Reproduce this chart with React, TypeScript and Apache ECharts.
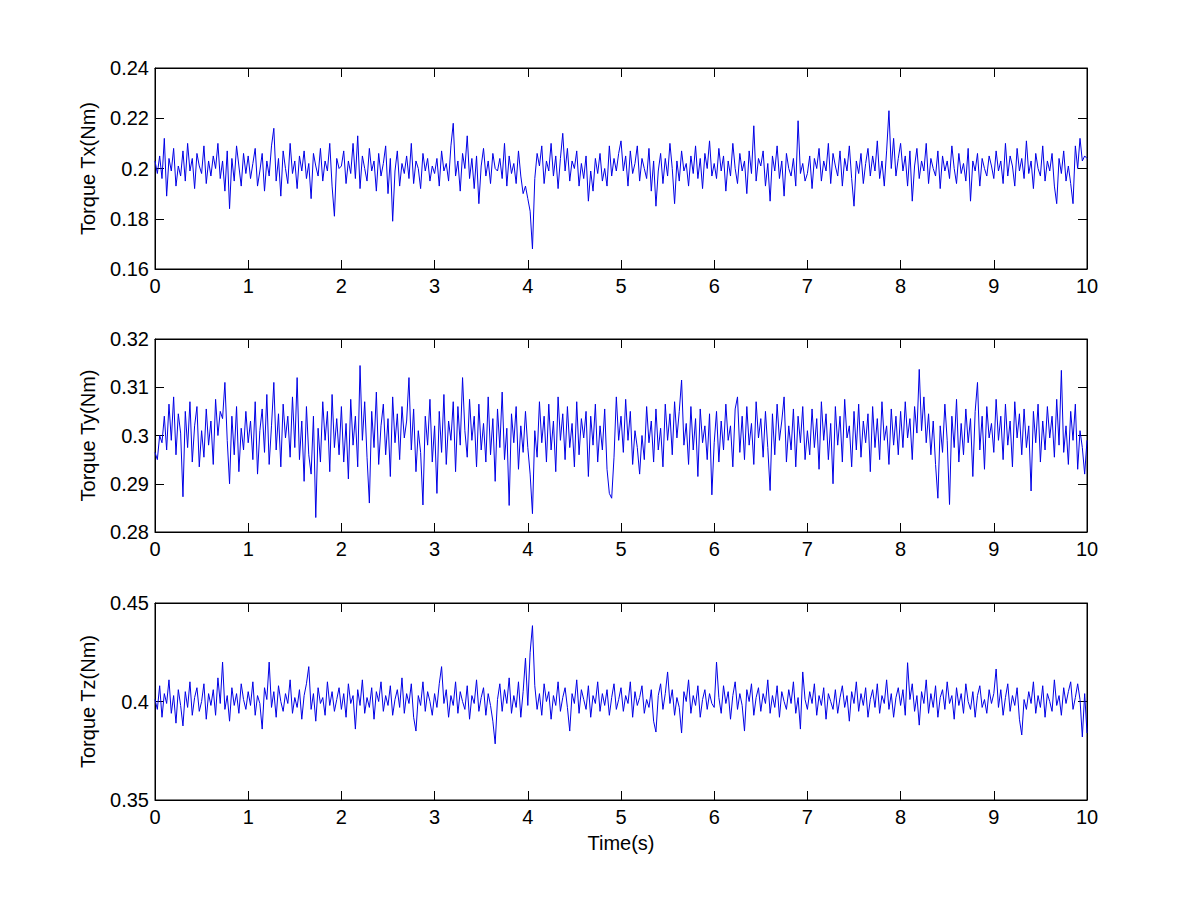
import React, { useEffect, useRef } from "react";
import * as echarts from "echarts";

// sample spacing of the recorded signals (s)
const TIME_STEP = 0.025;
const X_TICKS = [0, 1, 2, 3, 4, 5, 6, 7, 8, 9, 10];

// Torque Tx (Nm), one row per second
const TX: number[] = [
  0.203,0.198,0.205,0.196,0.212,0.189,0.204,0.199,0.208,0.193,0.201,0.197,0.207,0.195,0.210,0.199,0.204,0.192,0.206,0.201,0.198,0.209,0.194,0.203,0.197,0.205,0.200,0.210,0.196,0.203,0.191,0.207,0.184,0.204,0.195,0.209,0.201,0.193,0.206,0.198,
  0.205,0.196,0.202,0.208,0.193,0.199,0.206,0.191,0.203,0.197,0.209,0.216,0.195,0.204,0.189,0.207,0.200,0.194,0.210,0.198,0.203,0.192,0.205,0.199,0.207,0.196,0.202,0.188,0.206,0.201,0.197,0.208,0.195,0.203,0.199,0.210,0.193,0.181,0.204,0.200,
  0.201,0.207,0.194,0.203,0.198,0.210,0.196,0.213,0.192,0.205,0.200,0.195,0.208,0.199,0.203,0.191,0.206,0.197,0.202,0.209,0.190,0.204,0.179,0.199,0.207,0.193,0.202,0.198,0.205,0.196,0.210,0.194,0.203,0.200,0.192,0.206,0.199,0.204,0.195,0.201,
  0.198,0.204,0.193,0.207,0.199,0.202,0.195,0.209,0.218,0.197,0.203,0.191,0.206,0.200,0.213,0.196,0.204,0.192,0.205,0.186,0.201,0.208,0.197,0.203,0.194,0.206,0.200,0.199,0.204,0.196,0.210,0.193,0.205,0.198,0.202,0.194,0.207,0.197,0.190,0.193,
  0.188,0.183,0.168,0.196,0.206,0.201,0.209,0.194,0.203,0.199,0.210,0.197,0.205,0.192,0.204,0.214,0.199,0.208,0.195,0.203,0.200,0.207,0.193,0.202,0.196,0.205,0.187,0.199,0.191,0.204,0.198,0.206,0.195,0.200,0.193,0.209,0.197,0.204,0.199,0.206,
  0.211,0.199,0.205,0.193,0.207,0.198,0.202,0.209,0.195,0.204,0.200,0.196,0.208,0.191,0.203,0.185,0.199,0.206,0.194,0.204,0.197,0.210,0.200,0.186,0.203,0.195,0.207,0.199,0.202,0.193,0.205,0.198,0.209,0.196,0.204,0.192,0.206,0.200,0.211,0.197,
  0.202,0.196,0.208,0.199,0.205,0.191,0.203,0.197,0.210,0.200,0.194,0.206,0.199,0.203,0.190,0.207,0.198,0.217,0.195,0.204,0.201,0.207,0.193,0.202,0.187,0.205,0.199,0.209,0.196,0.203,0.189,0.206,0.200,0.197,0.204,0.193,0.219,0.198,0.202,0.195,
  0.198,0.205,0.192,0.204,0.200,0.208,0.195,0.203,0.199,0.210,0.194,0.206,0.201,0.197,0.207,0.193,0.204,0.199,0.209,0.196,0.185,0.203,0.198,0.206,0.194,0.202,0.208,0.197,0.205,0.199,0.211,0.196,0.203,0.193,0.207,0.223,0.200,0.212,0.197,0.204,
  0.210,0.199,0.205,0.193,0.207,0.187,0.201,0.208,0.196,0.203,0.199,0.210,0.194,0.204,0.200,0.197,0.207,0.192,0.205,0.199,0.203,0.196,0.209,0.200,0.194,0.206,0.198,0.202,0.195,0.208,0.187,0.203,0.199,0.206,0.193,0.204,0.200,0.197,0.205,0.201,
  0.196,0.207,0.199,0.203,0.194,0.210,0.197,0.205,0.201,0.193,0.208,0.199,0.204,0.196,0.211,0.198,0.203,0.192,0.206,0.200,0.197,0.209,0.195,0.203,0.199,0.206,0.193,0.186,0.204,0.198,0.207,0.195,0.201,0.194,0.186,0.209,0.200,0.212,0.203,0.205,
  0.204,
];

// Torque Ty (Nm), one row per second
const TY: number[] = [
  0.2965,0.2950,0.3000,0.2985,0.3040,0.2970,0.3065,0.2990,0.3080,0.2960,0.3045,0.3005,0.2873,0.3050,0.2975,0.3070,0.2945,0.3020,0.3060,0.2935,0.3010,0.2955,0.3055,0.2980,0.3030,0.2940,0.3075,0.3000,0.3050,0.3035,0.3110,0.2990,0.2900,0.3040,0.2960,0.3060,0.2925,0.3015,0.2970,0.3050,
  0.2985,0.3030,0.2950,0.3070,0.2920,0.3010,0.3055,0.2965,0.3085,0.2940,0.3020,0.3110,0.2970,0.3045,0.2935,0.3065,0.2995,0.3040,0.2955,0.3080,0.2975,0.3120,0.2950,0.3030,0.2905,0.3060,0.2960,0.2920,0.3040,0.2830,0.3015,0.2945,0.3070,0.2990,0.3050,0.2925,0.3085,0.2975,0.3035,0.2960,
  0.3060,0.2945,0.3025,0.2910,0.3075,0.2980,0.3040,0.2935,0.3145,0.2990,0.3070,0.2955,0.2860,0.3050,0.2975,0.3090,0.2940,0.3020,0.3065,0.2960,0.3035,0.2915,0.3080,0.2985,0.3045,0.2950,0.3060,0.2995,0.3030,0.3120,0.2970,0.3055,0.2925,0.3010,0.2965,0.2856,0.3040,0.2980,0.3075,0.2945,
  0.3020,0.2880,0.3050,0.2965,0.3085,0.2940,0.3030,0.2990,0.3070,0.2925,0.3060,0.2980,0.3120,0.3010,0.2955,0.3075,0.2990,0.3040,0.2935,0.3065,0.2970,0.3025,0.2945,0.3080,0.2960,0.3035,0.2905,0.3055,0.2975,0.3090,0.2950,0.3015,0.2855,0.3045,0.2985,0.3060,0.2930,0.3020,0.2965,0.3050,
  0.2975,0.2920,0.2838,0.3010,0.2955,0.3070,0.2985,0.3040,0.2945,0.3065,0.2970,0.3030,0.2925,0.3080,0.2990,0.3045,0.2950,0.3060,0.2975,0.3025,0.2935,0.3070,0.2960,0.3035,0.2995,0.3050,0.2915,0.3040,0.2980,0.3065,0.2945,0.3020,0.2970,0.3055,0.2930,0.2880,0.2870,0.2955,0.3080,0.2990,
  0.3040,0.2965,0.3075,0.2990,0.3050,0.2940,0.3010,0.2975,0.2920,0.3000,0.2950,0.3060,0.2985,0.3030,0.2945,0.3055,0.2970,0.3015,0.2935,0.3065,0.2990,0.3045,0.2960,0.3070,0.2995,0.3050,0.3115,0.2980,0.3025,0.2940,0.3060,0.2970,0.3035,0.2915,0.3055,0.2985,0.3020,0.2950,0.3045,0.2877,
  0.2985,0.3050,0.2945,0.3030,0.2970,0.3065,0.2990,0.3020,0.2935,0.3055,0.3080,0.2965,0.3040,0.2950,0.3060,0.2980,0.3025,0.2940,0.3070,0.2995,0.3035,0.2955,0.3050,0.2975,0.2886,0.3045,0.2960,0.3065,0.2990,0.3030,0.3080,0.2945,0.3020,0.2970,0.3055,0.2935,0.3040,0.2985,0.3060,0.2950,
  0.3010,0.2960,0.3055,0.2975,0.3035,0.2930,0.3070,0.2990,0.3045,0.2950,0.3025,0.2900,0.3060,0.2980,0.3040,0.2945,0.3075,0.2995,0.3020,0.2935,0.3050,0.2970,0.3065,0.2955,0.3030,0.2985,0.3045,0.2925,0.3060,0.2975,0.3035,0.2950,0.3070,0.2990,0.3020,0.2940,0.3055,0.2980,0.3040,0.2960,
  0.3050,0.2975,0.3070,0.2995,0.3035,0.2950,0.3060,0.3005,0.3137,0.3010,0.3080,0.2985,0.3045,0.2960,0.3030,0.2940,0.2870,0.3020,0.2965,0.3065,0.2990,0.2857,0.3040,0.2975,0.3075,0.2945,0.3025,0.2960,0.3055,0.2985,0.3035,0.2915,0.3050,0.3110,0.2970,0.3040,0.2930,0.3060,0.2995,0.3025,
  0.2965,0.3075,0.2990,0.3040,0.2950,0.3065,0.2980,0.3030,0.2935,0.3070,0.2995,0.3045,0.2960,0.3055,0.2975,0.3020,0.2885,0.3050,0.2985,0.3065,0.2945,0.3030,0.2970,0.3060,0.2995,0.3040,0.2955,0.3075,0.2980,0.3135,0.2965,0.3020,0.2940,0.3050,0.2990,0.3065,0.2930,0.3010,0.2975,0.2920,
  0.2990,
];

// Torque Tz (Nm), one row per second
const TZ: number[] = [
  0.401,0.396,0.408,0.392,0.404,0.399,0.411,0.394,0.403,0.389,0.406,0.398,0.3876,0.405,0.397,0.410,0.393,0.402,0.407,0.395,0.400,0.409,0.391,0.404,0.398,0.406,0.393,0.412,0.399,0.420,0.396,0.403,0.390,0.407,0.398,0.404,0.394,0.409,0.401,0.396,
  0.405,0.398,0.410,0.393,0.403,0.399,0.386,0.407,0.401,0.420,0.397,0.405,0.392,0.408,0.400,0.395,0.404,0.399,0.411,0.394,0.402,0.397,0.406,0.391,0.403,0.409,0.4177,0.396,0.404,0.390,0.407,0.399,0.402,0.393,0.410,0.398,0.405,0.395,0.401,0.407,
  0.396,0.404,0.392,0.409,0.399,0.403,0.386,0.406,0.398,0.411,0.394,0.402,0.397,0.407,0.391,0.405,0.400,0.410,0.395,0.403,0.398,0.408,0.393,0.401,0.406,0.397,0.412,0.394,0.404,0.399,0.409,0.392,0.385,0.403,0.398,0.410,0.395,0.405,0.400,0.393,
  0.404,0.397,0.409,0.4177,0.399,0.406,0.392,0.403,0.398,0.410,0.394,0.405,0.400,0.396,0.408,0.391,0.403,0.399,0.411,0.395,0.402,0.407,0.393,0.404,0.398,0.390,0.3785,0.401,0.409,0.395,0.406,0.399,0.412,0.394,0.403,0.397,0.410,0.392,0.405,0.422,
  0.398,0.425,0.4385,0.408,0.396,0.404,0.393,0.409,0.400,0.405,0.391,0.403,0.398,0.410,0.395,0.402,0.407,0.397,0.385,0.404,0.399,0.411,0.394,0.406,0.401,0.396,0.408,0.392,0.403,0.399,0.410,0.395,0.404,0.398,0.406,0.393,0.402,0.409,0.396,0.401,
  0.407,0.395,0.403,0.399,0.410,0.392,0.405,0.398,0.402,0.408,0.394,0.401,0.397,0.406,0.390,0.3845,0.403,0.409,0.396,0.404,0.415,0.399,0.406,0.393,0.402,0.397,0.384,0.405,0.400,0.411,0.394,0.403,0.398,0.408,0.392,0.401,0.406,0.396,0.404,0.399,
  0.397,0.420,0.402,0.394,0.408,0.399,0.405,0.391,0.403,0.410,0.396,0.404,0.398,0.385,0.406,0.400,0.409,0.393,0.402,0.407,0.395,0.404,0.399,0.411,0.394,0.403,0.397,0.408,0.392,0.405,0.400,0.396,0.406,0.399,0.410,0.394,0.402,0.386,0.415,0.401,
  0.396,0.405,0.399,0.409,0.393,0.403,0.398,0.407,0.391,0.404,0.400,0.396,0.406,0.394,0.402,0.408,0.397,0.403,0.390,0.405,0.399,0.410,0.395,0.404,0.398,0.407,0.392,0.401,0.406,0.397,0.409,0.394,0.403,0.399,0.411,0.396,0.404,0.392,0.402,0.407,
  0.398,0.406,0.393,0.4197,0.401,0.409,0.395,0.403,0.388,0.405,0.399,0.411,0.394,0.404,0.397,0.408,0.392,0.402,0.406,0.396,0.410,0.399,0.403,0.391,0.407,0.398,0.404,0.394,0.409,0.400,0.396,0.405,0.392,0.403,0.408,0.397,0.401,0.394,0.406,0.399,
  0.404,0.4165,0.397,0.406,0.393,0.402,0.409,0.395,0.403,0.398,0.407,0.391,0.383,0.401,0.396,0.405,0.399,0.410,0.394,0.403,0.397,0.408,0.392,0.404,0.400,0.395,0.411,0.398,0.403,0.393,0.407,0.399,0.405,0.410,0.396,0.402,0.409,0.401,0.382,0.404,
  0.384,
];

const PANELS = [
  { name: "Torque Tx(Nm)", values: TX, min: 0.16, max: 0.24, interval: 0.02 },
  { name: "Torque Ty(Nm)", values: TY, min: 0.28, max: 0.32, interval: 0.01 },
  { name: "Torque Tz(Nm)", values: TZ, min: 0.35, max: 0.45, interval: 0.05 },
];
const X_NAME = "Time(s)";

const GRID_LAYOUT = [
  { top: 68, height: 201 },
  { top: 339, height: 193 },
  { top: 603, height: 197 },
];

const FONT = "'Liberation Sans', Arial, sans-serif";
const LINE_COLOR = "#0000e6";

export default function App() {
  const ref = useRef<HTMLDivElement>(null);

  useEffect(() => {
    document.body.style.margin = "0";
    if (!ref.current) return;
    const chart = echarts.init(ref.current, null, { renderer: "svg" });

    const black = { color: "#000", width: 1 };
    const grids: any[] = [];
    const xAxes: any[] = [];
    const yAxes: any[] = [];
    const series: any[] = [];

    PANELS.forEach((p, i) => {
      grids.push({
        left: 155,
        width: 932,
        top: GRID_LAYOUT[i].top,
        height: GRID_LAYOUT[i].height,
        show: true,
        borderColor: "#000",
        borderWidth: 1,
        backgroundColor: "#fff",
      });
      const xBase = {
        gridIndex: i,
        type: "value",
        min: X_TICKS[0],
        max: X_TICKS[X_TICKS.length - 1],
        interval: 1,
        axisLine: { show: true, onZero: false, lineStyle: black },
        axisTick: { show: true, inside: true, length: 9, lineStyle: black },
        splitLine: { show: false },
      };
      xAxes.push({
        ...xBase,
        position: "bottom",
        axisLabel: { show: true, color: "#000", fontSize: 20, fontFamily: FONT, margin: 7 },
        ...(i === PANELS.length - 1
          ? {
              name: X_NAME,
              nameLocation: "middle",
              nameGap: 33,
              nameTextStyle: { color: "#000", fontSize: 20, fontFamily: FONT },
            }
          : {}),
      });
      xAxes.push({ ...xBase, position: "top", axisLabel: { show: false } });

      const yBase = {
        gridIndex: i,
        type: "value",
        min: p.min,
        max: p.max,
        interval: p.interval,
        axisLine: { show: true, onZero: false, lineStyle: black },
        axisTick: { show: true, inside: true, length: 9, lineStyle: black },
        splitLine: { show: false },
      };
      yAxes.push({
        ...yBase,
        position: "left",
        axisLabel: { show: true, color: "#000", fontSize: 20, fontFamily: FONT, margin: 6 },
        name: p.name,
        nameLocation: "middle",
        nameRotate: 90,
        nameGap: 57,
        nameTextStyle: { color: "#000", fontSize: 20, fontFamily: FONT },
      });
      yAxes.push({ ...yBase, position: "right", axisLabel: { show: false } });

      series.push({
        type: "line",
        xAxisIndex: i * 2,
        yAxisIndex: i * 2,
        data: p.values.map((v, k) => [k * TIME_STEP, v]),
        showSymbol: false,
        symbol: "none",
        lineStyle: { color: LINE_COLOR, width: 1 },
        itemStyle: { color: LINE_COLOR },
      });
    });

    chart.setOption({
      animation: false,
      backgroundColor: "#fff",
      grid: grids,
      xAxis: xAxes,
      yAxis: yAxes,
      series,
    });

    return () => chart.dispose();
  }, []);

  return <div ref={ref} style={{ width: 1201, height: 900 }} />;
}
